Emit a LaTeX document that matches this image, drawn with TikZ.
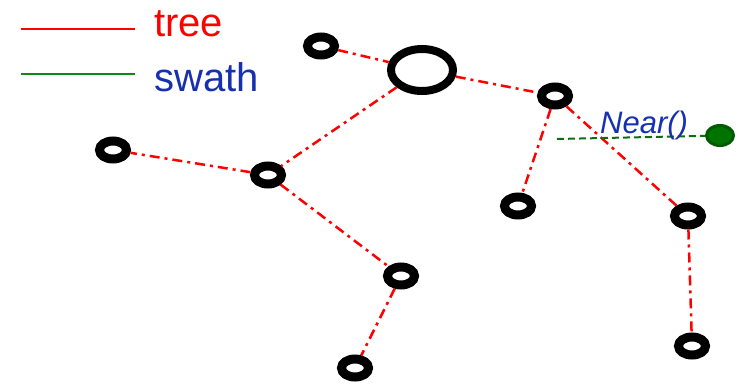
\documentclass[tikz,border=0pt]{standalone}
\usepackage{fontspec}
\setmainfont{Liberation Sans}
\usetikzlibrary{shapes.geometric}
\definecolor{legendblue}{RGB}{22,48,176}
\definecolor{swathgreen}{RGB}{20,135,20}
\definecolor{goalgreen}{RGB}{0,115,0}
\definecolor{goaldark}{RGB}{0,90,0}
\begin{document}
\begin{tikzpicture}[x=1pt,y=-1pt,
  vert/.style={ellipse,draw=black,line width=9pt,inner sep=0pt,
    minimum width=27pt,minimum height=18pt,fill=white},
  rootvert/.style={ellipse,draw=black,line width=8pt,inner sep=0pt,
    minimum width=62pt,minimum height=42pt,fill=white},
  goal/.style={ellipse,draw=goaldark,line width=3pt,fill=goalgreen,inner sep=0pt,
    minimum width=27pt,minimum height=20pt},
  treeedge/.style={draw=red,line width=2.5pt,
    dash pattern=on 10pt off 5pt on 3pt off 5pt},
  swathedge/.style={draw=swathgreen!80!black,line width=2pt,
    dash pattern=on 7pt off 4pt},
  lbl/.style={inner sep=0pt,anchor=base west}]
\useasboundingbox (0,0) rectangle (741,383);

% legend
\coordinate (lt1) at (21,29);
\coordinate (lt2) at (135,29);
\coordinate (ls1) at (21,74);
\coordinate (ls2) at (135,74);
\draw[red,line width=2pt] (lt1) -- (lt2);
\draw[swathgreen,line width=2pt] (ls1) -- (ls2);
\node[lbl,text=red,font=\fontsize{40}{40}\selectfont] (ltree) at (154,36) {tree};
\node[lbl,text=legendblue,font=\fontsize{40}{40}\selectfont] (lswath) at (154,91) {swath};

% tree vertices
\node[rootvert] (r) at (422,70) {};
\node[vert] (a) at (321,46) {};
\node[vert] (b) at (555,96) {};
\node[vert] (c) at (113,150) {};
\node[vert] (d) at (268,175) {};
\node[vert] (e) at (518,206) {};
\node[vert] (f) at (688,216) {};
\node[vert] (g) at (401,276) {};
\node[vert] (h) at (355,368) {};
\node[vert] (i) at (692,346) {};

% tree edges
\draw[treeedge] (a) -- (r);
\draw[treeedge] (r) -- (b);
\draw[treeedge] (r) -- (d);
\draw[treeedge] (d) -- (c);
\draw[treeedge] (d) -- (g);
\draw[treeedge] (g) -- (h);
\draw[treeedge] (b) -- (e);
\draw[treeedge] (b) -- (f);
\draw[treeedge] (f) -- (i);

% swath query towards the new sample
\node[goal] (s) at (720,135.5) {};
\coordinate (q) at (557,139);
\draw[swathedge] (q) -- (s);
\node[lbl,text=legendblue,font=\fontsize{31}{31}\itshape] (near) at (600,133) {Near()};
\end{tikzpicture}
\end{document}
